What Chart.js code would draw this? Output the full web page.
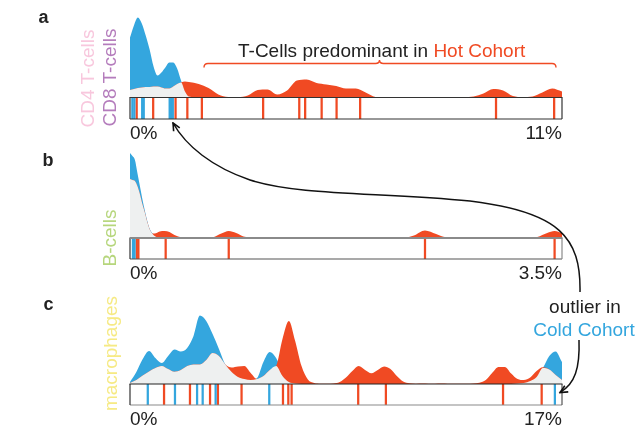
<!DOCTYPE html>
<html>
<head>
<meta charset="utf-8">
<script src="https://cdn.jsdelivr.net/npm/chart.js@4.4.0/dist/chart.umd.min.js"></script>
<style>
  html, body { margin: 0; padding: 0; background: #fff; }
  #page { position: relative; width: 640px; height: 427px; overflow: hidden; }
  .panel { position: absolute; left: 120px; width: 452px; }
  #notes { position: absolute; left: 0; top: 0; }
</style>
</head>
<body>
<div id="page">
  <div class="panel" style="top:7px;height:142px"><canvas id="chartA"></canvas></div>
  <div class="panel" style="top:143px;height:146px"><canvas id="chartB"></canvas></div>
  <div class="panel" style="top:304px;height:131px"><canvas id="chartC"></canvas></div>

  <svg id="notes" width="640" height="427" viewBox="0 0 640 427">
    <defs>
      <marker id="head" markerUnits="userSpaceOnUse" markerWidth="10" markerHeight="10"
              viewBox="0 0 10 10" refX="8.5" refY="5" orient="auto">
        <path d="M1,1.5 L8.5,5 L1,8.5" fill="none" stroke="#111" stroke-width="1.6"/>
      </marker>
    </defs>
    <g font-family="'Liberation Sans', Arial, sans-serif">
      <text x="38.5" y="22.5" font-size="18" font-weight="bold" fill="#222">a</text>
      <text x="42.5" y="166" font-size="18" font-weight="bold" fill="#222">b</text>
      <text x="43.5" y="309.5" font-size="18" font-weight="bold" fill="#222">c</text>

      <text transform="translate(93.5 78.5) rotate(-90)" text-anchor="middle" font-size="19" fill="#f8c7dd">CD4 T-cells</text>
      <text transform="translate(115.5 77.5) rotate(-90)" text-anchor="middle" font-size="19" fill="#b47cbc">CD8 T-cells</text>
      <text transform="translate(115.5 238) rotate(-90)" text-anchor="middle" font-size="19" fill="#b6d67c">B-cells</text>
      <text transform="translate(117 353.5) rotate(-90)" text-anchor="middle" font-size="19" fill="#f6ea84">macrophages</text>

      <text x="238" y="56.5" font-size="19" fill="#222">T-Cells predominant in <tspan fill="#f04a23">Hot Cohort</tspan></text>
      <path d="M204 67.5 Q204 63.5 208 63.5 L375.5 63.5 Q379.5 63.5 379.5 60 Q379.5 63.5 383.5 63.5 L552 63.5 Q556 63.5 556 67.5"
            fill="none" stroke="#f04a23" stroke-width="1.4"/>

      <text x="585" y="313" text-anchor="middle" font-size="19" fill="#222">outlier in</text>
      <text x="584" y="336" text-anchor="middle" font-size="19" fill="#34a6de">Cold Cohort</text>

      <path d="M580 292 C581 238 560 212 470 201 C380 192 300 196 250 180 C212 167 186 146 173 123"
            fill="none" stroke="#111" stroke-width="1.5" marker-end="url(#head)"/>
      <path d="M579 340 C580 368 575 384 560 392.5"
            fill="none" stroke="#111" stroke-width="1.5" marker-end="url(#head)"/>
    </g>
  </svg>
</div>

<script>
// ---- panel a: T-cells, 0 - 11 % ----
const aX = [0, 0.1, 0.2, 0.3, 0.4, 0.5, 0.6, 0.7, 0.8, 0.9, 1.0, 1.1, 1.2, 1.3, 1.4, 1.5,
            1.75, 2.0, 2.25, 2.5, 2.75, 3.0, 3.25, 3.5, 3.75, 4.0, 4.25, 4.5, 4.75, 5.0,
            5.25, 5.5, 5.75, 6.0, 6.25, 6.5, 7.0, 7.5, 8.0, 8.5,
            8.75, 9.0, 9.25, 9.5, 9.75, 10.0, 10.25, 10.5, 10.75, 11.0];
const aCold = [60, 72, 80, 74, 62, 48, 31, 22, 25, 30, 35, 35, 29, 17, 6, 1,
               0, 0, 0, 0, 0, 0, 0, 0, 0, 0, 0, 0, 0, 0,
               0, 0, 0, 0, 0, 0, 0, 0, 0, 0,
               0, 0, 0, 0, 0, 0, 0, 0, 0, 0];
const aHot = [7.5, 8.5, 9.5, 10, 10.5, 10.5, 11, 11, 10, 9, 9, 11, 13.5, 15, 16, 15.5,
              13.5, 9.5, 3, 0.5, 0.3, 2, 7.5, 8, 3, 7, 17, 18, 14.5, 13,
              11.5, 9, 9, 5, 0.5, 0, 0, 0, 0, 0.2,
              1, 4, 8.5, 7, 1.5, 0.5, 1, 5, 9, 6];
const aOverlap = [7.5, 8.5, 9.5, 10, 10.5, 10.5, 11, 11, 10, 9, 9, 11, 13.5, 15, 6, 1,
                  0, 0, 0, 0, 0, 0, 0, 0, 0, 0, 0, 0, 0, 0,
                  0, 0, 0, 0, 0, 0, 0, 0, 0, 0,
                  0, 0, 0, 0, 0, 0, 0, 0, 0, 0];
const aColdTicks = [0.06, 0.11, 0.31, 0.35, 1.01, 1.04, 1.09];
const aHotTicks = [0.17, 0.59, 1.16, 1.46, 1.83, 3.39, 4.31, 4.46, 4.88, 5.26, 5.86, 9.32, 10.8];
const aLabels = ['0%', '11%'];

// ---- panel b: B-cells, 0 - 3.5 % ----
const bX = [0, 0.02, 0.04, 0.06, 0.08, 0.1, 0.12, 0.14, 0.16, 0.18, 0.2,
            0.24, 0.28, 0.32, 0.36, 0.42, 0.5,
            0.6, 0.68, 0.74, 0.8, 0.86, 0.92, 1.0,
            1.5, 2.0, 2.22, 2.3, 2.39, 2.48, 2.56,
            2.8, 3.2, 3.3, 3.38, 3.44, 3.5];
const bCold = [85, 82, 78, 65, 52, 39, 27.5, 17, 9, 5, 2.5,
               0.5, 0, 0, 0, 0, 0,
               0, 0, 0, 0, 0, 0, 0,
               0, 0, 0, 0, 0, 0, 0,
               0, 0, 0, 0, 0, 0];
const bHot = [59, 58, 57, 52, 44, 34, 25.5, 16, 8.5, 4.5, 4.5,
              6.5, 7, 6, 3, 0.5, 0,
              0, 1, 4.5, 7, 5, 1.5, 0.2,
              0, 0, 0.3, 2.5, 7.5, 4, 0.8,
              0, 0, 1, 5, 7, 5];
const bOverlap = [59, 58, 57, 52, 44, 34, 25.5, 16, 8.5, 4.5, 2,
                  0.3, 0, 0, 0, 0, 0,
                  0, 0, 0, 0, 0, 0, 0,
                  0, 0, 0, 0, 0, 0, 0,
                  0, 0, 0, 0, 0, 0];
const bColdTicks = [0.024, 0.037];
const bHotTicks = [0.055, 0.068, 0.289, 0.8, 2.39, 3.44];
const bLabels = ['0%', '3.5%'];

// ---- panel c: macrophages, 0 - 17 % ----
const cX = [0, 0.25, 0.5, 0.75, 1, 1.25, 1.5, 1.75, 2, 2.25, 2.5, 2.75, 3, 3.25, 3.5, 3.75,
            4, 4.25, 4.5, 4.75, 5, 5.25, 5.5, 5.75, 6, 6.25, 6.5, 6.75, 7, 7.25,
            7.5, 7.75, 8, 8.25, 8.5, 8.75, 9, 9.25, 9.5, 9.75, 10, 10.25, 10.5, 10.75, 11,
            11.25, 11.5, 11.75, 12, 12.25, 12.5, 12.75, 13, 13.25, 13.5,
            13.75, 14, 14.25, 14.5, 14.75, 15, 15.25, 15.5, 15.75, 16, 16.25, 16.5, 16.75, 17];
const cCold = [2, 12, 25, 33, 26, 21, 28, 34.5, 32.5, 36, 48, 68.5, 63, 50, 35, 19.5,
               12, 7, 5, 4, 6, 22, 32, 26, 12, 4, 1, 0, 0, 0,
               0, 0, 0, 0, 0, 0, 0, 0, 0, 0, 0, 0, 0, 0, 0,
               0, 0, 0, 0, 0, 0, 0, 0, 0, 0,
               0, 0, 0, 0, 0, 0, 0.5, 1, 3, 7, 16, 28, 32.5, 22];
const cHot = [1, 4, 8.5, 12.5, 16, 18, 15, 12.3, 14, 18, 19.5, 19.5, 24, 31, 28, 19.5,
              16.5, 17.5, 18, 11, 5, 8, 14, 18, 45, 63, 43, 18, 4.5, 1,
              0.3, 0.3, 0.5, 2, 6.5, 13, 18, 14, 10.7, 14, 17.5, 15, 8, 2.5, 0.7,
              0.3, 0.5, 0.3, 0.3, 0.5, 0.3, 0.3, 0.3, 0.3, 0.5,
              1.2, 4, 11, 17, 17, 10.5, 5, 4, 6.5, 13, 16.7, 14.5, 9, 4];
const cOverlap = [1, 4, 8.5, 12.5, 16, 18, 15, 12.3, 14, 18, 19.5, 19.5, 24, 31, 28, 19.5,
                  12, 7, 5, 4, 5, 8, 14, 18, 8, 2, 0.5, 0, 0, 0,
                  0, 0, 0, 0, 0, 0, 0, 0, 0, 0, 0, 0, 0, 0, 0,
                  0, 0, 0, 0, 0, 0, 0, 0, 0, 0,
                  0, 0, 0, 0, 0, 0, 0.5, 1, 3, 7, 16, 14.5, 9, 4];
const cColdTicks = [0.70, 1.77, 2.64, 2.86, 3.37, 5.48, 16.72];
const cHotTicks = [1.34, 2.36, 3.15, 3.46, 4.39, 6.02, 6.23, 6.36, 8.98, 10.07, 14.68, 16.2];
const cLabels = ['0%', '17%'];

const COLD = '#34a6de';
const HOT = '#f04a23';
const OVERLAP = '#eef0f0';

Chart.defaults.font.family = "'Liberation Sans', Arial, sans-serif";

// box around the rug strip, drawn over the ticks
const rugBox = {
  id: 'rugBox',
  afterDatasetsDraw(chart, args, opts) {
    const { ctx, scales: { x, y } } = chart;
    const l = x.getPixelForValue(x.min), r = x.getPixelForValue(x.max);
    const t = y.getPixelForValue(0), b = y.getPixelForValue(y.min);
    const side = (x1, y1, x2, y2, color, w) => {
      ctx.beginPath();
      ctx.strokeStyle = color;
      ctx.lineWidth = w;
      ctx.moveTo(x1, y1);
      ctx.lineTo(x2, y2);
      ctx.stroke();
    };
    ctx.save();
    side(l, b, r, b, opts.bottom, opts.width);
    side(r, t, r, b, opts.right, opts.width);
    side(l, t, l, b, opts.left, opts.width);
    side(l - 0.5, t, r + 0.5, t, opts.top, opts.topWidth || opts.width);
    ctx.restore();
  }
};

function area(xs, ys, color) {
  return {
    type: 'line',
    data: xs.map((x, i) => ({ x: x, y: ys[i] })),
    backgroundColor: color,
    borderWidth: 0,
    pointRadius: 0,
    fill: 'origin',
    cubicInterpolationMode: 'monotone'
  };
}

function rug(ticks, yMin, color) {
  return {
    type: 'bar',
    data: ticks.map(v => ({ x: v, y: [yMin, 0] })),
    backgroundColor: color,
    borderWidth: 0,
    grouped: false,
    barThickness: 1.6
  };
}

function makePanel(id, p) {
  return new Chart(document.getElementById(id), {
    type: 'line',
    data: {
      // first dataset is painted last
      datasets: [
        area(p.xs, p.overlap, OVERLAP),
        area(p.xs, p.hot, HOT),
        area(p.xs, p.cold, COLD),
        rug(p.coldTicks, p.yMin, COLD),
        rug(p.hotTicks, p.yMin, HOT)
      ]
    },
    options: {
      responsive: true,
      maintainAspectRatio: false,
      animation: false,
      events: [],
      layout: { padding: { top: 10, left: 10, right: 10, bottom: 0 } },
      plugins: {
        legend: { display: false },
        tooltip: { enabled: false },
        rugBox: p.box
      },
      scales: {
        x: {
          type: 'linear',
          min: 0,
          max: p.max,
          offset: false,
          grid: { display: false, drawTicks: false },
          border: { display: false },
          afterBuildTicks: axis => { axis.ticks = [{ value: axis.min }, { value: axis.max }]; },
          ticks: {
            align: 'inner',
            autoSkip: false,
            maxRotation: 0,
            padding: 4,
            color: '#222',
            font: { size: 19, lineHeight: '22px' },
            callback: (v, i) => p.labels[i]
          }
        },
        y: { display: false, min: p.yMin, max: p.yMax }
      }
    },
    plugins: [rugBox]
  });
}

makePanel('chartA', {
  xs: aX, cold: aCold, hot: aHot, overlap: aOverlap,
  coldTicks: aColdTicks, hotTicks: aHotTicks, labels: aLabels,
  max: 11, yMin: -21.5, yMax: 80.5,
  box: { top: '#333', bottom: '#333', left: '#333', right: '#333', width: 1.2 }
});

makePanel('chartB', {
  xs: bX, cold: bCold, hot: bHot, overlap: bOverlap,
  coldTicks: bColdTicks, hotTicks: bHotTicks, labels: bLabels,
  max: 3.5, yMin: -21, yMax: 85,
  box: { top: '#8a8a8a', bottom: '#555', left: '#333', right: '#8a8a8a', width: 1.2, topWidth: 2 }
});

makePanel('chartC', {
  xs: cX, cold: cCold, hot: cHot, overlap: cOverlap,
  coldTicks: cColdTicks, hotTicks: cHotTicks, labels: cLabels,
  max: 17, yMin: -21, yMax: 70,
  box: { top: '#222', bottom: '#8a8a8a', left: '#333', right: '#555', width: 1.2 }
});
</script>
</body>
</html>
